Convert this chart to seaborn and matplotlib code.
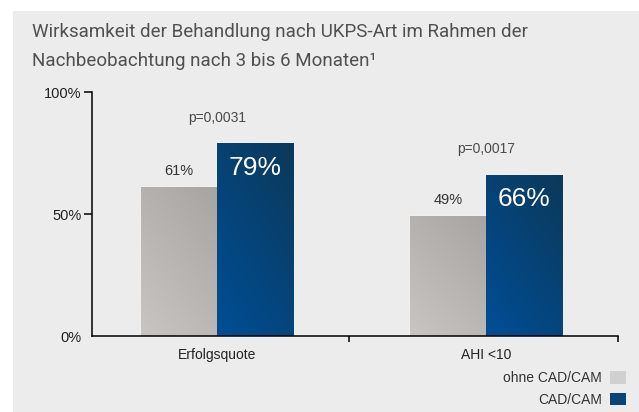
import numpy as np
import pandas as pd
import matplotlib
matplotlib.use("Agg")
import matplotlib.pyplot as plt
from matplotlib.patches import Rectangle, Patch
from matplotlib.colors import LinearSegmentedColormap
import seaborn as sns

# Data
categories = ["Erfolgsquote", "AHI <10"]
groups = ["ohne CAD/CAM", "CAD/CAM"]
ohne_values = [61, 49]
cad_values = [79, 66]
p_labels = ["p=0,0031", "p=0,0017"]
y_ticks = [0, 50, 100]
y_tick_labels = ["0%", "50%", "100%"]
title_lines = ["Wirksamkeit der Behandlung nach UKPS-Art im Rahmen der",
               "Nachbeobachtung nach 3 bis 6 Monaten\u00b9"]

df = pd.DataFrame({
    "Kategorie": categories * 2,
    "Gruppe": [groups[0]] * len(categories) + [groups[1]] * len(categories),
    "Wert": ohne_values + cad_values,
})

sns.set_theme(style="white")
plt.rcParams['font.family'] = ['Liberation Sans', 'DejaVu Sans']

bg = "#ebeceb"
fig = plt.figure(figsize=(6.39, 4.12), dpi=100)
fig.patches.append(Rectangle((13 / 639, 0), 1, 1 - 11 / 412, transform=fig.transFigure,
                             facecolor=bg, edgecolor="none", zorder=-10))
ax = fig.add_axes([92 / 639, 76 / 412, 526 / 639, 244 / 412])
ax.patch.set_alpha(0)

sns.barplot(data=df, x="Kategorie", y="Wert", hue="Gruppe", order=categories,
            hue_order=groups, palette=["#bab6b3", "#0a4378"], width=0.565, gap=0,
            saturation=1, legend=False, ax=ax)

# Gradient fill on the bars
gray_cmap = LinearSegmentedColormap.from_list("g", ["#c8c5c2", "#a8a4a1"])
blue_cmap = LinearSegmentedColormap.from_list("b", ["#004e96", "#0b395a"])
xx, yy = np.meshgrid(np.linspace(0, 1, 50), np.linspace(0, 1, 200))
grad = 0.4 * xx + 0.6 * yy
for cont, cmap in zip(ax.containers, [gray_cmap, blue_cmap]):
    for bar in cont:
        x0, w, h = bar.get_x(), bar.get_width(), bar.get_height()
        im = ax.imshow(grad, extent=(x0, x0 + w, 0, h), origin="lower", cmap=cmap,
                       aspect="auto", zorder=bar.get_zorder() + 0.1)
        im.set_clip_path(bar)

# Value labels
for bar in ax.containers[0]:
    ax.annotate(f"{bar.get_height():.0f}%", (bar.get_x() + bar.get_width() / 2, bar.get_height()),
                xytext=(0, 11.5), textcoords="offset points", ha="center", va="center",
                fontsize=10.5, color="#333333")
for bar in ax.containers[1]:
    ax.annotate(f"{bar.get_height():.0f}%", (bar.get_x() + bar.get_width() / 2, bar.get_height()),
                xytext=(0, -17.5), textcoords="offset points", ha="center", va="center",
                fontsize=19, color="white", zorder=5)
for i, p in enumerate(p_labels):
    bar = ax.containers[1][i]
    top = max(ohne_values[i], cad_values[i])
    ax.annotate(p, (bar.get_x(), top), xytext=(0, 18.5), textcoords="offset points",
                ha="center", va="center", fontsize=10, color="#4a4a4a")

ax.set_xlim(-0.465, 1.49)
ax.set_ylim(0, 100)
sns.despine(ax=ax)
for s in ["left", "bottom"]:
    ax.spines[s].set_color("black")
    ax.spines[s].set_linewidth(1.1)

ax.set_yticks(y_ticks, y_tick_labels)
ax.tick_params(axis="y", left=True, length=5.5, width=1.1, color="black", pad=2,
               labelsize=10.5, labelcolor="#222222")
ax.yaxis.get_major_ticks()[0].tick1line.set_visible(False)
ax.set_xticks(range(len(categories)), categories)
ax.tick_params(axis="x", length=0, pad=8.5, labelsize=10, labelcolor="#222222")
ax.set_xticks([0.49, 1.49], minor=True)
ax.tick_params(axis="x", which="minor", bottom=True, length=4.5, width=1.1, color="black")
ax.set_xlabel("")
ax.set_ylabel("")

# Title
for k, yb in enumerate([37, 66]):
    fig.text(32 / 639, 1 - yb / 412, title_lines[k], fontsize=13.5, color="#505050",
             va="baseline", family=["Roboto", "Liberation Sans"])

# Legend
handles = [Patch(facecolor="#d0d0d0", edgecolor="none"), Patch(facecolor="#0a4378", edgecolor="none")]
fig.legend(handles, groups, loc="lower right", bbox_to_anchor=(626 / 639, 5 / 412), frameon=False,
           markerfirst=False, handlelength=1.15, handleheight=1.0, handletextpad=0.58,
           labelspacing=0.55, borderpad=0, borderaxespad=0, fontsize=10, labelcolor="#333333")

fig.savefig("out.png", dpi=100)
